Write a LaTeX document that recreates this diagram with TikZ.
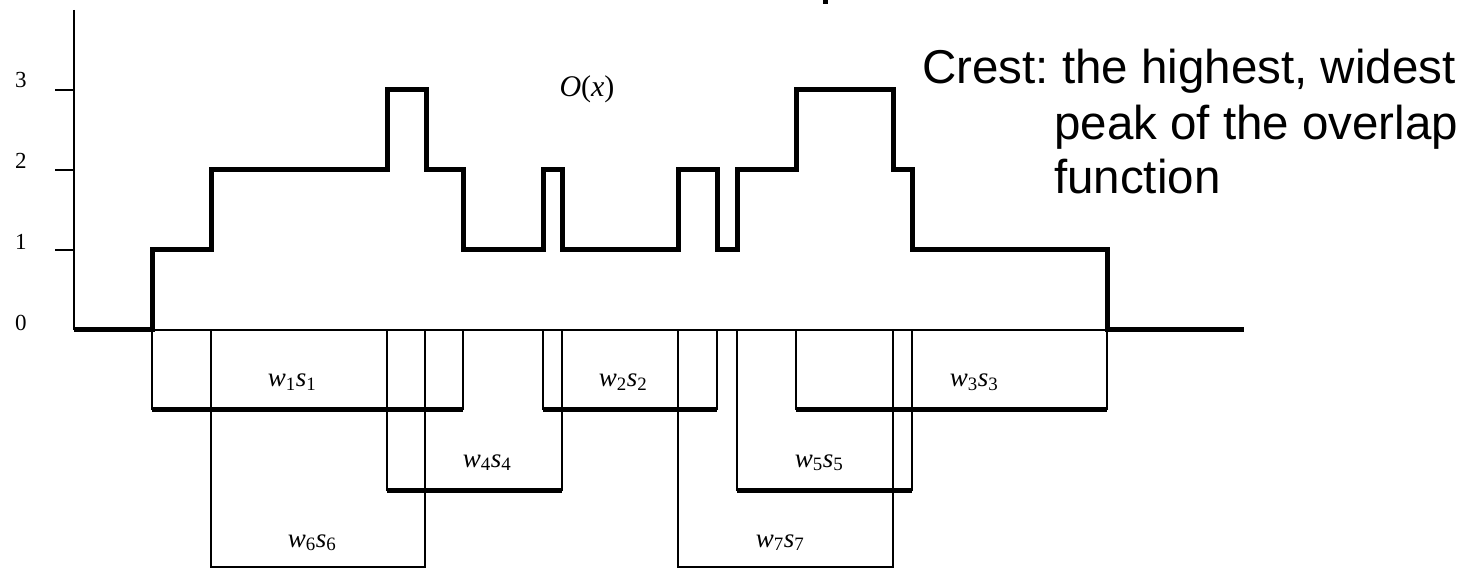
\documentclass[tikz,border=0pt]{standalone}
\usepackage{fontspec}
\setmainfont{Liberation Serif}
\newfontfamily\crestfont{Liberation Sans}
\frenchspacing
\begin{document}
\begin{tikzpicture}[x=1pt,y=-1pt,
  curve/.style={line width=5pt, line join=miter, line cap=butt},
  hair/.style={line width=1.3pt},
  heavy/.style={line width=5pt, line cap=butt},
  lbl/.style={inner sep=0pt, anchor=base, font=\fontsize{27}{27}\selectfont},
  axlbl/.style={inner sep=0pt, anchor=base, font=\fontsize{23}{23}\selectfont},
  crest/.style={inner sep=0pt, anchor=base west, font=\crestfont\fontsize{47.5}{54}\selectfont}]
\useasboundingbox (0,0) rectangle (1476,569);

% stray mark at top
\fill (823,0) rectangle (828,4.5);

% y axis and ticks
\draw[hair] (74,10) -- (74,330);
\foreach \yy in {90,170,250} \draw[hair] (55,\yy) -- (74,\yy);
\node[axlbl] (y3) at (21,88) {3};
\node[axlbl] (y2) at (21,169) {2};
\node[axlbl] (y1) at (21,250) {1};
\node[axlbl] (y0) at (21,331) {0};

% top line of the boxes
\draw[hair] (152,330) -- (1107,330);

% boxes
\draw[hair] (152,330) |- (463,409) -- (463,330);
\draw[heavy] (152,409) -- (463,409);
\draw[hair] (543,330) |- (717,409) -- (717,330);
\draw[heavy] (543,409) -- (717,409);
\draw[hair] (796,330) |- (1107,409) -- (1107,330);
\draw[heavy] (796,409) -- (1107,409);
\draw[hair] (387,330) |- (562,490) -- (562,330);
\draw[heavy] (387,490) -- (562,490);
\draw[hair] (737,330) |- (912,490) -- (912,330);
\draw[heavy] (737,490) -- (912,490);
\draw[hair] (211,330) |- (425,567) -- (425,330);
\draw[hair] (678,330) |- (893,567) -- (893,330);

% overlap function
\draw[curve] (74,330) -- (152,330) -- (152,250) -- (211,250) -- (211,170)
  -- (387,170) -- (387,90) -- (426,90) -- (426,170) -- (463,170) -- (463,250)
  -- (543,250) -- (543,170) -- (562,170) -- (562,250) -- (678,250)
  -- (678,170) -- (717,170) -- (717,250) -- (737,250) -- (737,170)
  -- (796,170) -- (796,90) -- (893,90) -- (893,170) -- (912,170)
  -- (912,250) -- (1107,250) -- (1107,330) -- (1244,330);

% labels
\node[lbl] (lw1) at (292,387) {\textit{w}\textsubscript{1}\textit{s}\textsubscript{1}};
\node[lbl] (lw2) at (623,387) {\textit{w}\textsubscript{2}\textit{s}\textsubscript{2}};
\node[lbl] (lw3) at (974,387) {\textit{w}\textsubscript{3}\textit{s}\textsubscript{3}};
\node[lbl] (lw4) at (487,467) {\textit{w}\textsubscript{4}\textit{s}\textsubscript{4}};
\node[lbl] (lw5) at (819,467) {\textit{w}\textsubscript{5}\textit{s}\textsubscript{5}};
\node[lbl] (lw6) at (312,547) {\textit{w}\textsubscript{6}\textit{s}\textsubscript{6}};
\node[lbl] (lw7) at (780,547) {\textit{w}\textsubscript{7}\textit{s}\textsubscript{7}};
\node[inner sep=0pt, anchor=base, font=\fontsize{30}{30}\selectfont] (ox) at (587,97) {\textit{O}(\textit{x})};

% crest text
\node[crest] (crest1) at (922,84) {Crest: the highest, widest};
\node[crest] (crest2) at (1054,140) {peak of the overlap};
\node[crest] (crest3) at (1054,194) {function};
\end{tikzpicture}
\end{document}
